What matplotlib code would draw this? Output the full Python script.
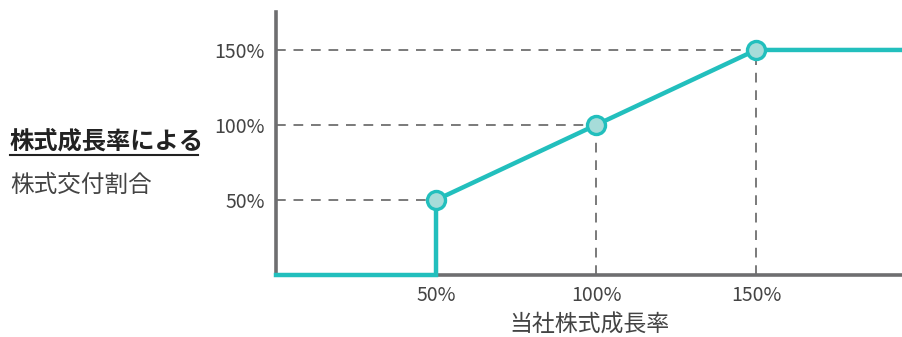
import matplotlib
matplotlib.use("Agg")
import matplotlib.pyplot as plt
from matplotlib.lines import Line2D

plt.rcParams['font.family'] = ['Noto Sans CJK JP', 'DejaVu Sans']

# data
growth_x = [0, 50, 50, 100, 150, 195]
ratio_y = [0, 0, 50, 100, 150, 150]
point_x = [50, 100, 150]
point_y = [50, 100, 150]
tick_vals = [50, 100, 150]
tick_labels = ['50%', '100%', '150%']
xlabel = '当社株式成長率'
title_bold = '株式成長率による'
title_sub = '株式交付割合'

W, H = 902, 337
fig = plt.figure(figsize=(W / 100, H / 100), dpi=100)
ax = fig.add_axes([276 / W, (H - 275) / H, (W - 276) / W, (275 - 12) / H])
ax.set_xlim(0, 195.6)
ax.set_ylim(0, 175.3)

line_c = '#22bfbd'
face_c = '#a6dcd9'
dash_c = '#7a7a7a'
axis_c = '#6e6e70'
text_c = '#444444'

# dashed guides
for xv, yv in zip(point_x, point_y):
    ax.plot([0, xv], [yv, yv], color=dash_c, lw=1.4, ls=(0, (5, 4)), zorder=1, clip_on=False)
    if xv > 50:
        ax.plot([xv, xv], [0, yv], color=dash_c, lw=1.4, ls=(0, (5, 4)), zorder=1, clip_on=False)

ax.plot(growth_x, ratio_y, color=line_c, lw=3.2, zorder=3, clip_on=False, solid_joinstyle='miter')
ax.plot(point_x, point_y, 'o', ms=13, mfc=face_c, mec=line_c, mew=2.4, zorder=4, clip_on=False)

for s in ['top', 'right']:
    ax.spines[s].set_visible(False)
for s in ['left', 'bottom']:
    ax.spines[s].set_color(axis_c)
    ax.spines[s].set_linewidth(2.6)

ax.set_xticks(tick_vals)
ax.set_xticklabels(tick_labels)
ax.set_yticks(tick_vals)
ax.set_yticklabels(tick_labels)
ax.tick_params(length=0, labelsize=14, colors=text_c, pad=8)
ax.tick_params(axis='x', pad=7)
ax.set_xlabel(xlabel, fontsize=16.5, color=text_c, labelpad=6)

fig.text(10 / W, 1 - 142 / H, title_bold, fontsize=17.5, fontweight='bold', color='#222222',
         ha='left', va='center')
fig.add_artist(Line2D([10 / W, 198 / W], [1 - 155 / H, 1 - 155 / H], color='#222222', lw=1.5))
fig.text(10 / W, 1 - 185 / H, title_sub, fontsize=17, color=text_c, ha='left', va='center')

fig.savefig('out.png', dpi=100)
